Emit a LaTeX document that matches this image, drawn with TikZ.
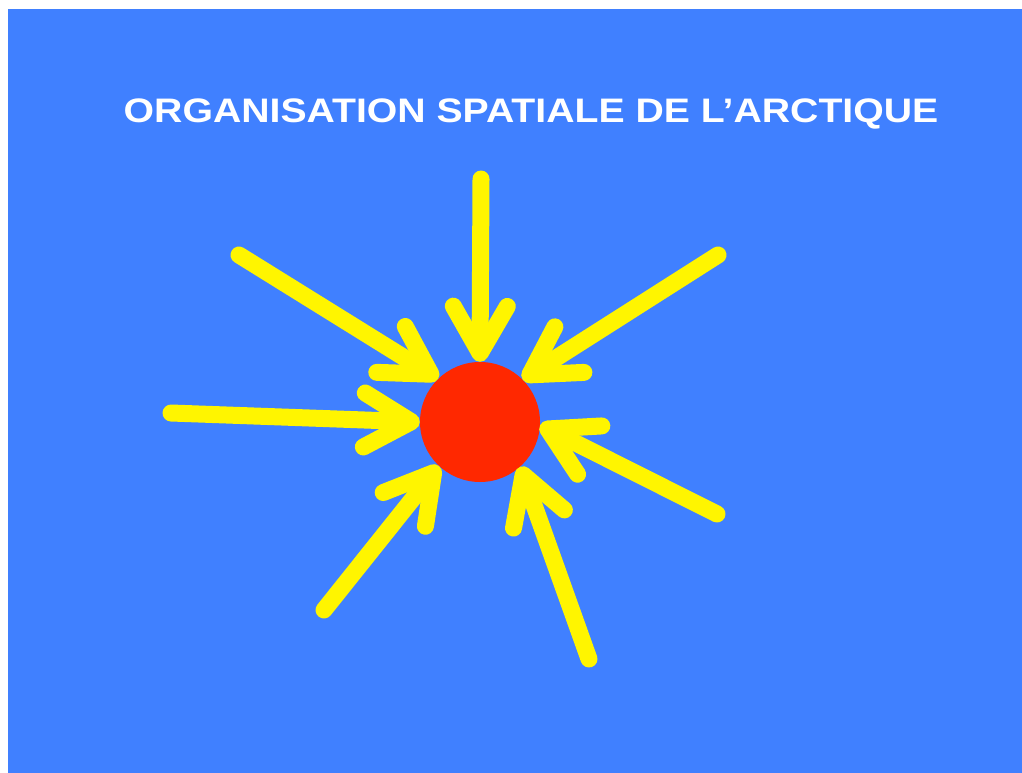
\documentclass[tikz,border=0pt]{standalone}
\usepackage{fontspec}
\setmainfont{Liberation Sans}
\usetikzlibrary{arrows.meta}
\definecolor{seaBlue}{RGB}{64,128,255}
\definecolor{sunYellow}{RGB}{255,245,0}
\definecolor{poleRed}{RGB}{255,40,0}
\tikzstyle{title} = [text=white, 
font=\bfseries\fontsize{34}{40}\selectfont]
\tikzstyle{pole} = [circle, 
minimum size=120pt, 
inner sep=0pt, 
fill=poleRed]
\tikzstyle{flow} = [line width=17pt, line cap=round, draw=sunYellow,
-{Straight Barb[length=47pt, width=54pt, round]}]

\begin{document}
\begin{tikzpicture}[x=1pt, y=-1pt]
\useasboundingbox (0,0) rectangle (1022,773);
\fill [seaBlue] (8,9) rectangle (1022,773);
\node (title) [title, anchor=base] at (531,123) {\scalebox{1.153}[1]{ORGANISATION SPATIALE DE L’ARCTIQUE}};
\node (arctic) [pole] at (480,422) {};
\coordinate (north) at (481,179);
\coordinate (northWest) at (239,255);
\coordinate (northEast) at (718,255);
\coordinate (west) at (171,413);
\coordinate (east) at (717,514);
\coordinate (southWest) at (324,610);
\coordinate (south) at (589,659);

\draw [flow] (north) -- (arctic.90);
\draw [flow] (northWest) -- (arctic.134);
\draw [flow] (northEast) -- (arctic.45);
\draw [flow] (west) -- (arctic.180);
\draw [flow] (east) -- (arctic.-3);
\draw [flow] (southWest) -- (arctic.227);
\draw [flow] (south) -- (arctic.-48);
\end{tikzpicture}
\end{document}
